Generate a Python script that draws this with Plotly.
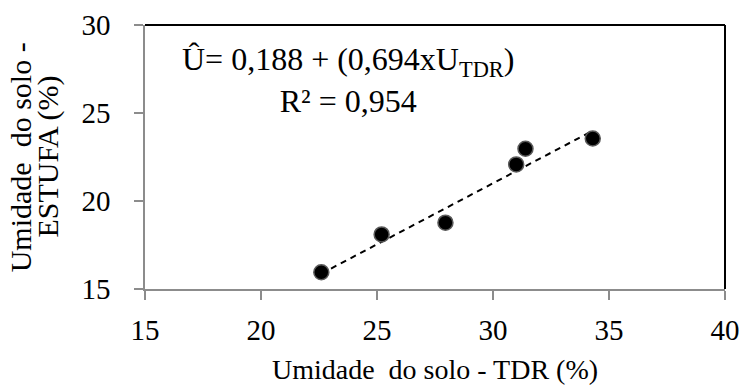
import plotly.graph_objects as go
import numpy as np

# Data
umidade_tdr = [22.6, 25.2, 27.95, 31.0, 31.4, 34.3]
umidade_estufa = [15.95, 18.1, 18.77, 22.08, 22.97, 23.55]
intercept = 0.188
slope = 0.694
x_ticks = [15, 20, 25, 30, 35, 40]
y_ticks = [15, 20, 25, 30]
y_title_lines = ["Umidade\u00a0 do solo -", "ESTUFA (%)"]

FONT = "Liberation Serif"
GRAY = "#8c8c8c"

fit_x = np.array([min(umidade_tdr), max(umidade_tdr)])
fit_y = intercept + slope * fit_x

fig = go.Figure()
fig.add_trace(go.Scatter(x=fit_x, y=fit_y, mode="lines",
                         line=dict(color="black", width=2, dash="6px,5px"),
                         showlegend=False, hoverinfo="skip"))
fig.add_trace(go.Scatter(x=umidade_tdr, y=umidade_estufa, mode="markers",
                         marker=dict(size=15, color="black",
                                     line=dict(color="#5a5a5a", width=1.5)),
                         showlegend=False))

fig.add_annotation(x=0.35, y=0.79, xref="paper", yref="paper",
                   xanchor="center", yanchor="middle",
                   text="Û= 0,188 + (0,694xU<sub>TDR</sub>)<br>R² = 0,954",
                   showarrow=False, align="center",
                   font=dict(family=FONT, size=32, color="black"))

# y-axis title (two tightly spaced lines)
for txt, xp in zip(y_title_lines, [-0.215, -0.168]):
    fig.add_annotation(x=xp, y=0.5, xref="paper", yref="paper",
                       xanchor="center", yanchor="middle", textangle=-90,
                       text=txt, showarrow=False,
                       font=dict(family=FONT, size=30, color="black"))

# top/right border
fig.add_shape(type="line", xref="paper", yref="paper", x0=0, x1=1, y0=1, y1=1,
              line=dict(color="black", width=2))
fig.add_shape(type="line", xref="paper", yref="paper", x0=1, x1=1, y0=0, y1=1,
              line=dict(color="black", width=2))

fig.update_layout(
    width=744, height=385,
    margin=dict(l=145, r=19, t=25, b=96, autoexpand=False),
    plot_bgcolor="white", paper_bgcolor="white",
    font=dict(family=FONT, size=29, color="black"),
    xaxis=dict(range=[15, 40], tickvals=x_ticks, showgrid=False, zeroline=False,
               automargin=False,
               showline=True, linecolor=GRAY, linewidth=1.5,
               ticks="outside", ticklen=9, tickcolor=GRAY, tickwidth=1.5,
               ticklabelstandoff=5,
               tickfont=dict(family=FONT, size=29, color="black"),
               title=dict(text="Umidade\u00a0 do solo - TDR (%)", standoff=19,
                          font=dict(family=FONT, size=28, color="black"))),
    yaxis=dict(range=[15, 30], tickvals=y_ticks, showgrid=False, zeroline=False,
               automargin=False,
               showline=True, linecolor=GRAY, linewidth=1.5,
               ticks="outside", ticklen=9, tickcolor=GRAY, tickwidth=1.5,
               ticklabelstandoff=18,
               tickfont=dict(family=FONT, size=29, color="black")),
)

fig.write_html("out.html")
